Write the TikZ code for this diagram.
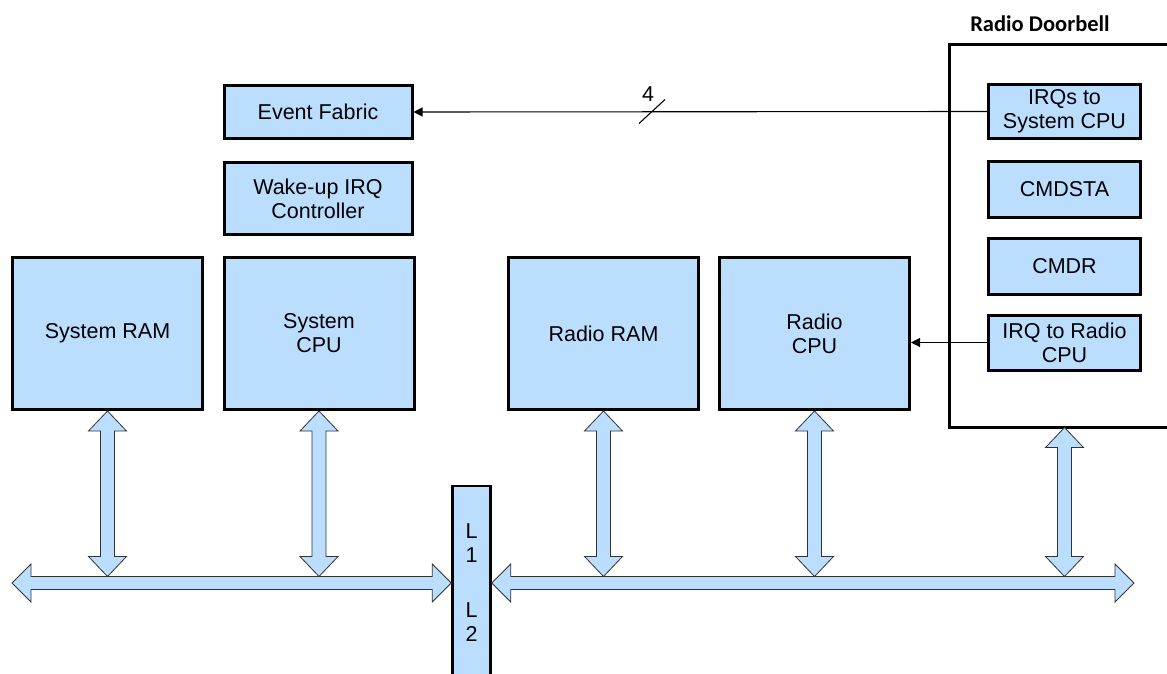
\documentclass[tikz,border=0pt]{standalone}
\usepackage{fontspec}
\setmainfont{Liberation Sans}
\newfontfamily\titlefont{Carlito}
\usepackage{tikz}
\usetikzlibrary{calc}
\usetikzlibrary{arrows.meta}
\usetikzlibrary{positioning}

\definecolor{blkfill}{RGB}{187,222,255}

\tikzset{
  blk/.style={draw, line width=3pt, fill=blkfill, align=center, inner sep=0pt,
    font=\fontsize{21.5}{24}\selectfont},
  busarrow/.style={draw=black!80, line width=0.8pt, fill=blkfill},
  sig/.style={line width=1.1pt, -{Triangle[length=9pt,width=9pt]}},
}

% fat double arrow, vertical and horizontal
\newcommand{\vbus}[2]{%
  \draw[busarrow] let \p1=(#1), \p2=(#2) in
    (\x1,\y1) -- (\x1-19pt,\y1-20pt) -- (\x1-7pt,\y1-20pt) -- (\x1-7pt,\y2+20pt)
    -- (\x1-19pt,\y2+20pt) -- (\x1,\y2) -- (\x1+19pt,\y2+20pt) -- (\x1+7pt,\y2+20pt)
    -- (\x1+7pt,\y1-20pt) -- (\x1+19pt,\y1-20pt) -- cycle;}
\newcommand{\hbus}[2]{%
  \draw[busarrow] let \p1=(#1), \p2=(#2) in
    (\x1,\y1) -- (\x1+19pt,\y1+19pt) -- (\x1+19pt,\y1+6.5pt) -- (\x2-19pt,\y1+6.5pt)
    -- (\x2-19pt,\y1+19pt) -- (\x2,\y1) -- (\x2-19pt,\y1-19pt) -- (\x2-19pt,\y1-6.5pt)
    -- (\x1+19pt,\y1-6.5pt) -- (\x1+19pt,\y1-19pt) -- cycle;}

\begin{document}
\begin{tikzpicture}[x=1pt,y=-1pt]
    \useasboundingbox (0,0) rectangle (1167,674);

    % system side
    \node[blk, minimum width=188pt, minimum height=53pt] (evfab) at (318,112) {Event Fabric};
    \node[blk, minimum width=188pt, minimum height=72pt] (wakeup) at (318,198.5) {Wake-up IRQ\\Controller};
    \node[blk, minimum width=190pt, minimum height=152pt] (sram) at (107.5,333.5) {System RAM};
    \node[blk, minimum width=190pt, minimum height=152pt] (scpu) at (319,333.5) {System\\CPU};

    % radio side
    \node[blk, minimum width=190pt, minimum height=152pt] (rram) at (603.5,333.5) {Radio RAM};
    \node[blk, minimum width=190pt, minimum height=152pt] (rcpu) at (814.5,333.5) {Radio\\CPU};

    % doorbell, open to the right
    \coordinate (dbtop) at (1180,44.5);
    \coordinate (dbbottom) at (1180,427.5);
    \draw[line width=3pt] (dbtop) -| (949.5,427.5) -- (dbbottom);
    \node[font=\titlefont\bfseries\fontsize{22.5}{24}\selectfont] (dbtitle) at (1040,24) {Radio Doorbell};
    \node[blk, minimum width=152pt, minimum height=54pt] (irqsys) at (1064.5,111.5) {IRQs to\\System CPU};
    \node[blk, minimum width=152pt, minimum height=56pt] (cmdsta) at (1064.5,189.5) {CMDSTA};
    \node[blk, minimum width=152pt, minimum height=56pt] (cmdr) at (1064.5,266.5) {CMDR};
    \node[blk, minimum width=152pt, minimum height=55pt] (irqradio) at (1064.5,342.5) {IRQ to Radio\\CPU};

    % L1 L2
    \node[blk, line width=2.5pt, minimum width=38pt, minimum height=194pt] (l12) at (471.5,583) {L\\1\\[31pt]L\\2};

    % irq lines
    \draw[sig] (irqsys.west) -- (evfab.east);
    \coordinate (slash) at (652,111.5);
    \draw[line width=1.1pt] (slash) ++(-13,12) -- ++(26,-24);
    \node[font=\fontsize{21.5}{24}\selectfont] (width) at (648,94) {4};
    \draw[sig] (irqradio.west) -- (rcpu.east |- irqradio.west);

    % buses
    \coordinate (lbus) at (12,583);
    \coordinate (rbus) at (1134,583);
    \coordinate (bustop) at (0,576.5);
    \hbus{lbus}{l12.west |- lbus}
    \hbus{l12.east |- rbus}{rbus}
    \vbus{sram.south}{sram.south |- bustop}
    \vbus{scpu.south}{scpu.south |- bustop}
    \vbus{rram.south}{rram.south |- bustop}
    \vbus{rcpu.south}{rcpu.south |- bustop}
    \vbus{irqradio.south |- dbbottom}{irqradio.south |- bustop}
\end{tikzpicture}
\end{document}
